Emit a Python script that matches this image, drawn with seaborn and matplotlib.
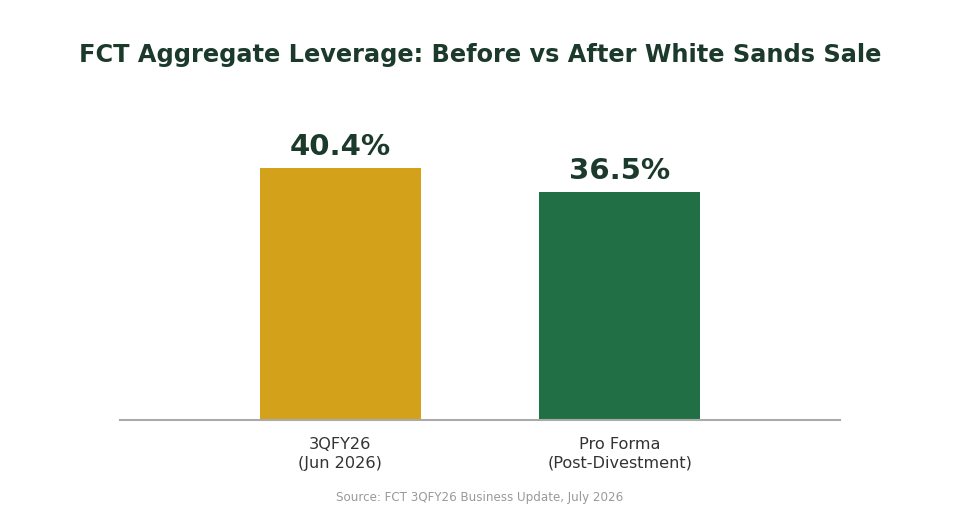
import pandas as pd
import seaborn as sns
import matplotlib.pyplot as plt

# data
categories = ['3QFY26\n(Jun 2026)', 'Pro Forma\n(Post-Divestment)']
leverage = [40.4, 36.5]
bar_colors = ['#D4A11A', '#217045']

df = pd.DataFrame({'period': categories, 'leverage': leverage})

sns.set_theme(style='white')
plt.rcParams['font.family'] = ['DejaVu Sans']

fig = plt.figure(figsize=(9.6, 5.2), dpi=100)
ax = fig.add_axes([0.125, 0.1923, 0.75, 0.5769])

sns.barplot(data=df, x='period', y='leverage', hue='period', palette=bar_colors,
            width=0.575, legend=False, ax=ax, saturation=1, linewidth=0)

ax.set_xlim(-0.786, 1.786)
ax.set_ylim(0, 48)
for s in ['top', 'right', 'left']:
    ax.spines[s].set_visible(False)
ax.spines['bottom'].set_color('#aaaaaa')
ax.spines['bottom'].set_linewidth(1.5)
ax.set_yticks([])
ax.set_xlabel('')
ax.set_ylabel('')
ax.tick_params(axis='x', length=0, pad=12, labelsize=11.6, labelcolor='#333333')
for lab in ax.get_xticklabels():
    lab.set_linespacing(1.35)

for i, v in enumerate(leverage):
    ax.annotate(f'{v:.1f}%', xy=(i, v), xytext=(0, 5), textcoords='offset points',
                ha='center', va='bottom', fontsize=21, fontweight='bold', color='#1B3A2B')

fig.text(0.5, 0.894, 'FCT Aggregate Leverage: Before vs After White Sands Sale',
         ha='center', va='center', fontsize=17.3, fontweight='bold', color='#1B3A2B')
fig.text(0.5, 0.044, 'Source: FCT 3QFY26 Business Update, July 2026',
         ha='center', va='center', fontsize=8.6, color='#999999')

plt.savefig('out.png', dpi=100)
